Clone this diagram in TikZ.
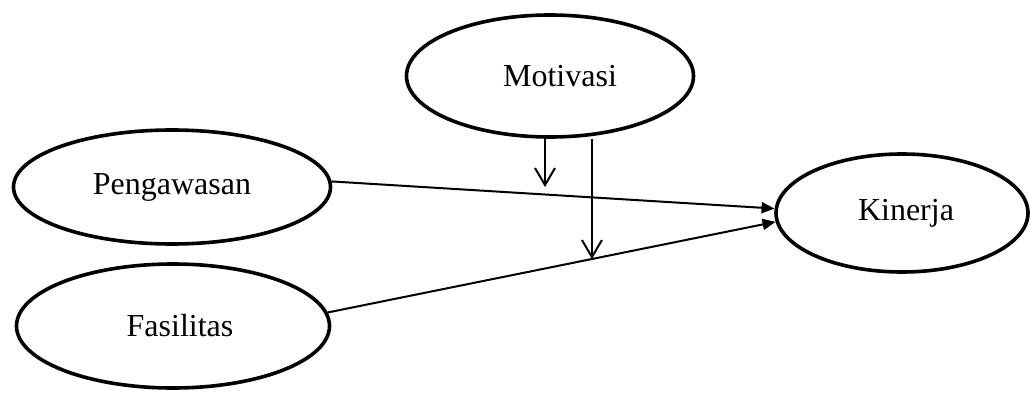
\documentclass[tikz,border=0pt]{standalone}
\usepackage{fontspec}
\setmainfont{Liberation Serif}
\usepackage{tikz}
\usetikzlibrary{shapes.geometric,arrows.meta,calc}

\begin{document}
\begin{tikzpicture}[x=1pt, y=1pt,
    every node/.style={font=\fontsize{32}{38}\selectfont},
    var/.style={ellipse, draw, line width=3.6pt},
    link/.style={line width=2pt, -{Triangle[length=13pt, width=11pt]}},
    moderate/.style={line width=2pt, -{Straight Barb[length=17pt, width=20pt, line width=2pt]}}]
      \useasboundingbox (0,0) rectangle (1030,392);

      \node[var, minimum width=317, minimum height=114] (Peng) at (172,205) {Pengawasan};
      \node[var, minimum width=313, minimum height=124] (Fas) at (173,66) {\hspace*{14pt}Fasilitas};
      \node[var, minimum width=287, minimum height=122] (Mot) at (550,316) {\hspace*{20pt}Motivasi};
      \node[var, minimum width=252, minimum height=118] (Kin) at (902,179) {\hspace*{8pt}Kinerja};

      \draw[link] (Peng.2) -- (Kin.178);
      \draw[link] (Fas.5) -- (Kin.184);

      \coordinate (m1) at (545,205);
      \coordinate (m2) at ($(Fas.5)!0.59!(Kin.184)$);
      \draw[moderate] (Mot.south -| m1) -- (m1);
      \draw[moderate] (Mot.south -| m2) -- (m2);
    \end{tikzpicture}
\end{document}
